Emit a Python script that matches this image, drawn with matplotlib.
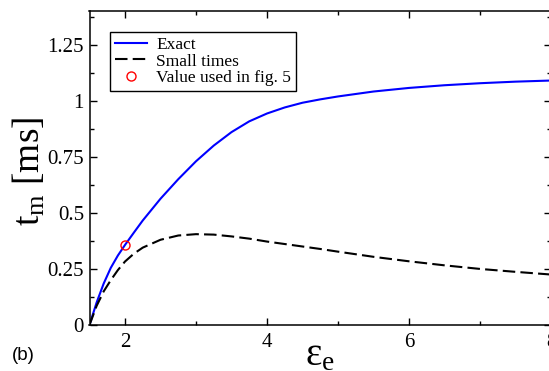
import matplotlib
matplotlib.use("Agg")
import matplotlib.pyplot as plt
from matplotlib.ticker import MultipleLocator

# threshold eps_e and time to maximum t_m [ms]
eps = [1.5, 1.6, 1.7, 1.8, 1.9, 2.0, 2.125, 2.25, 2.5, 2.75, 3.0, 3.25, 3.5,
       3.75, 4.0, 4.25, 4.5, 4.75, 5.0, 5.5, 6.0, 6.5, 7.0, 7.5, 8.0]
t_exact = [0.0, 0.1, 0.185, 0.255, 0.31, 0.357, 0.412, 0.466, 0.563, 0.65,
           0.73, 0.8, 0.86, 0.908, 0.943, 0.97, 0.991, 1.006, 1.019, 1.041,
           1.057, 1.069, 1.078, 1.085, 1.09]
t_small = [0.0, 0.085, 0.15, 0.2, 0.245, 0.283, 0.318, 0.345, 0.38, 0.399,
           0.405, 0.403, 0.395, 0.385, 0.372, 0.361, 0.35, 0.339, 0.327,
           0.304, 0.284, 0.266, 0.25, 0.237, 0.225]

# point used later in fig. 5
eps_used = [2.0]
t_used = [0.357]

plt.rcParams['font.family'] = ['Liberation Serif', 'DejaVu Serif']
plt.rcParams['mathtext.fontset'] = 'custom'
plt.rcParams['mathtext.rm'] = 'Liberation Serif'
plt.rcParams['mathtext.it'] = 'Liberation Serif:italic'

fig = plt.figure(figsize=(5.49, 3.71), dpi=100)
ax = fig.add_axes([89.5 / 549, 1 - 325 / 371, (551 - 89.5) / 549, (325 - 11) / 371])

ax.plot(eps, t_exact, color='#0000ff', lw=1.5, label='Exact')
ax.plot(eps, t_small, color='black', lw=1.5, dashes=(6, 2.5), label='Small times')
ax.plot(eps_used, t_used, 'o', ms=6.5, mfc='none', mec='red', mew=1.0,
        label='Value used in fig. 5')

ax.set_xlim(1.5, 8)
ax.set_ylim(0, 1.4)
ax.xaxis.set_minor_locator(MultipleLocator(1))
ax.yaxis.set_minor_locator(MultipleLocator(0.125))
ax.set_yticks([0, 0.25, 0.5, 0.75, 1, 1.25])
ax.set_yticklabels(['0', '0.25', '0.5', '0.75', '1', '1.25'])
ax.set_xticks([2, 4, 6, 8])
ax.set_xticklabels(['2', '4', '6', '8'])

ax.tick_params(which='both', direction='in', top=True, right=True, width=1.0)
ax.tick_params(which='major', length=5, labelsize=15)
ax.tick_params(which='minor', length=3)
ax.tick_params(axis='x', pad=6)
ax.tick_params(axis='y', pad=4)
for s in ax.spines.values():
    s.set_linewidth(1.1)

ax.set_ylabel(r't$_\mathrm{m}$ [ms]', fontsize=27)
ax.yaxis.set_label_coords(-0.091, 0.49)
ax.set_xlabel(r'ε$_\mathrm{e}$', fontsize=28)
ax.xaxis.set_label_coords(0.5, -0.04)

leg = ax.legend(loc='upper left', bbox_to_anchor=(0.0444, 0.933),
                borderaxespad=0, fontsize=12.5, frameon=True, fancybox=False,
                edgecolor='black', framealpha=1, labelspacing=0.0,
                handlelength=1.85, handletextpad=0.5, borderpad=0.3)
leg.get_frame().set_linewidth(1.0)

fig.text(12 / 549, 1 - 360 / 371, '(b)', family='Liberation Sans', fontsize=13.5,
         va='baseline')

fig.savefig('out.png', dpi=100)
